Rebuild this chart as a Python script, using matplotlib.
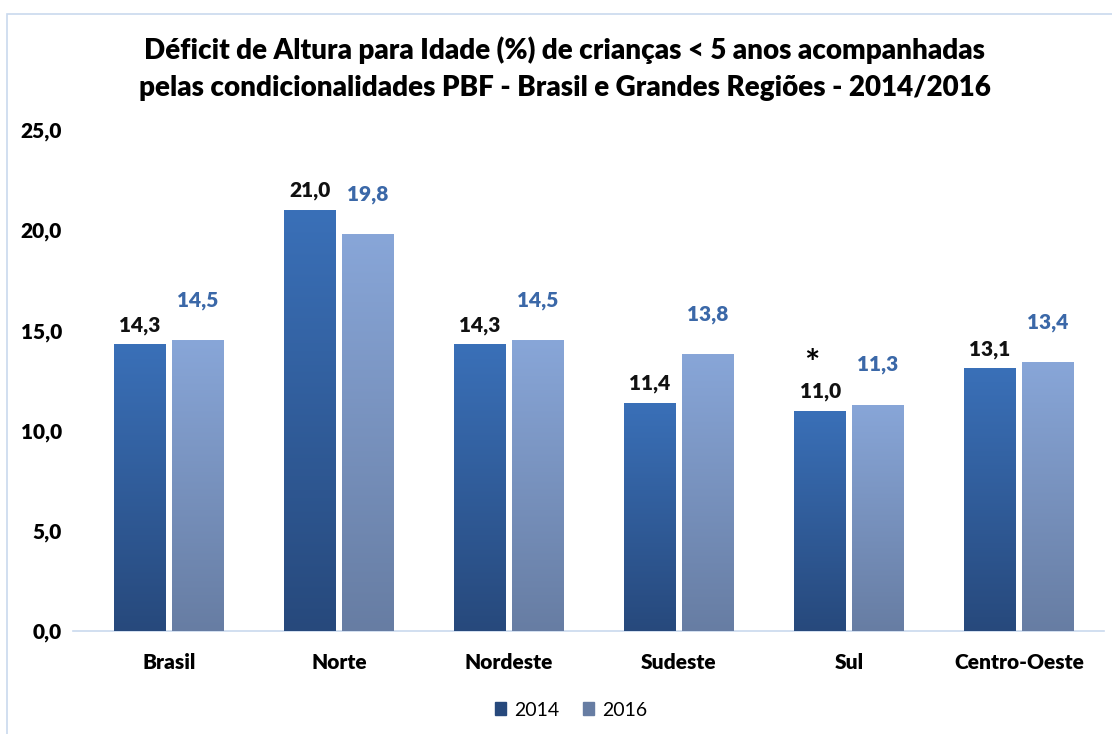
import matplotlib.pyplot as plt
import numpy as np
from matplotlib.patches import Rectangle
from matplotlib.colors import to_rgb

# data
regioes = ['Brasil', 'Norte', 'Nordeste', 'Sudeste', 'Sul', 'Centro-Oeste']
anos = ['2014', '2016']
v2014 = [14.3, 21.0, 14.3, 11.4, 11.0, 13.1]
v2016 = [14.5, 19.8, 14.5, 13.8, 11.3, 13.4]
yticks = [0, 5, 10, 15, 20, 25]

plt.rcParams['font.family'] = ['Lato', 'DejaVu Sans']

fig = plt.figure(figsize=(11.12, 7.34), dpi=100)
W, H = 1112, 734

# light blue frame around chart area
fig.patches.append(Rectangle((7 / W, -0.05), 1.1, (H - 14) / H + 0.05,
                             transform=fig.transFigure, fill=False,
                             edgecolor='#c9d9ee', linewidth=1.2))

ax = fig.add_axes([84 / W, (H - 631) / H, 1020 / W, 501 / H])

x = np.arange(len(regioes))
bw = 0.305
gap = 0.035

# gradient colours (top, bottom)
grad = {
    '2014': ('#3a70b8', '#27497c'),
    '2016': ('#88a6d8', '#677da3'),
}


def gradient_bars(xs, vals, c_top, c_bot):
    bars = ax.bar(xs, vals, width=bw, color=c_top, zorder=2)
    top = np.array(to_rgb(c_top))
    bot = np.array(to_rgb(c_bot))
    t = np.linspace(0, 1, 256)[:, None]
    img = (bot * (1 - t) + top * t)[:, None, :]
    for b in bars:
        x0, w, h = b.get_x(), b.get_width(), b.get_height()
        im = ax.imshow(img, extent=[x0, x0 + w, 0, h], origin='lower',
                       aspect='auto', zorder=3)
        im.set_clip_path(b)
    return bars


gradient_bars(x - bw / 2 - gap / 2, v2014, *grad['2014'])
gradient_bars(x + bw / 2 + gap / 2, v2016, *grad['2016'])
ax.set_xlim(-0.5, len(regioes) - 0.5)
ax.set_ylim(0, 25)

for xi, v in zip(x - bw / 2 - gap / 2, v2014):
    ax.annotate(f'{v:.1f}'.replace('.', ','), (xi, v), xytext=(0, 7),
                textcoords='offset points', ha='center', va='bottom',
                fontsize=15, fontweight='heavy', color='#111111')
for xi, v in zip(x + bw / 2 + gap / 2, v2016):
    ax.annotate(f'{v:.1f}'.replace('.', ','), (xi, v), xytext=(0, 22),
                textcoords='offset points', ha='center', va='bottom',
                fontsize=15, fontweight='heavy', color='#3b68a8')

# asterisk on Sul
ax.annotate('*', (x[4] - bw / 2 - gap / 2, v2014[4]), xytext=(-6, 21),
            textcoords='offset points', ha='center', va='bottom',
            fontsize=26, fontweight='bold', color='black')

ax.set_yticks(yticks)
ax.set_yticklabels([f'{t:.1f}'.replace('.', ',') for t in yticks],
                   fontsize=15, fontweight='heavy')
ax.set_xticks(x)
ax.set_xticklabels(regioes, fontsize=15, fontweight='heavy')
ax.tick_params(axis='both', length=0)
ax.tick_params(axis='y', pad=16)
ax.tick_params(axis='x', pad=16)
for s in ['top', 'right', 'left']:
    ax.spines[s].set_visible(False)
ax.spines['bottom'].set_color('#c9d9ee')
ax.spines['bottom'].set_linewidth(1.2)
ax.spines['bottom'].set_bounds(-0.5 - 11 / 170, len(regioes) - 0.5)

fig.text(0.508, (H - 50) / H, 'Déficit de Altura para Idade (%) de crianças < 5 anos acompanhadas',
         ha='center', va='center', fontsize=20, fontweight='heavy')
fig.text(0.508, (H - 88) / H, 'pelas condicionalidades PBF - Brasil e Grandes Regiões - 2014/2016',
         ha='center', va='center', fontsize=20, fontweight='heavy')

handles = [Rectangle((0, 0), 1, 1, color=grad['2014'][1]),
           Rectangle((0, 0), 1, 1, color=grad['2016'][1])]
fig.legend(handles, anos, loc='center', bbox_to_anchor=(571 / W, (H - 710) / H),
           ncol=2, frameon=False, fontsize=14, handlelength=0.6, handleheight=0.6,
           handletextpad=0.4, columnspacing=1.2)

fig.savefig('out.png', dpi=100)
